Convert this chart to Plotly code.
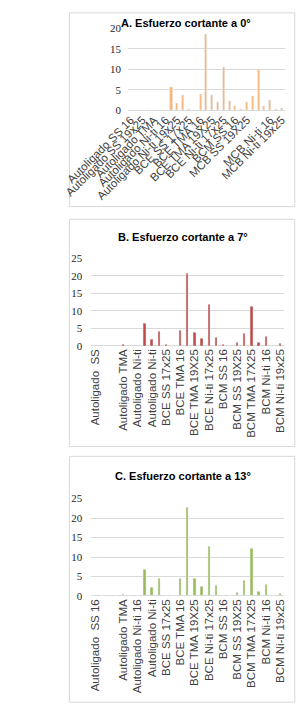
import plotly.graph_objects as go

# ---- data ----
n_cat = 27
cat_index = list(range(n_cat))

labels_A = ["Autoligado SS 16", "Autoligado SS 19x25", "Autoligado TMA", "Autoligado Ni-ti 16",
            "Autoligado Ni-ti 19x25", "BCE SS 17x25", "BCE TMA 16", "BCE TMA 19X25",
            "BCE Ni-ti 17x25", "BCM SS 16", "MCB SS 19X25", "", "MCB Ni-ti 16", "MCB Ni-ti 19x25"]
labels_B = ["Autoligado\u00a0 SS", "", "Autoligado TMA", "Autoligado Ni-ti", "Autoligado Ni-ti",
            "BCE SS 17x25", "BCE TMA 16", "BCE TMA 19X25", "BCE Ni-ti 17x25", "BCM SS 16",
            "BCM SS 19X25", "BCM TMA 17X25", "BCM Ni-ti 16", "BCM Ni-ti 19x25"]
labels_C = ["Autoligado\u00a0 SS 16", "", "Autoligado TMA", "Autoligado Ni-ti 16", "Autoligado Ni-ti",
            "BCE SS 17x25", "BCE TMA 16", "BCE TMA 19X25", "BCE Ni-ti 17x25", "BCM SS 16",
            "BCM SS 19X25", "BCM TMA 17X25", "BCM Ni-ti 16", "BCM Ni-ti 19x25"]
label_positions = list(range(0, n_cat, 2))

values_A = [0, 0, 0, 0, 0, 0, 0, 5.6, 1.8, 3.6, 0.2, 0, 3.8, 18.5, 3.6, 2.0, 10.5, 2.2,
            1.0, 0.2, 1.9, 3.4, 10.0, 1.0, 2.4, 0.2, 0.5]
values_B = [0, 0, 0, 0, 0.4, 0, 0, 6.3, 2.0, 4.2, 0.3, 0, 4.3, 20.8, 4.0, 2.2, 11.9, 2.4,
            0.3, 0, 0.9, 3.7, 11.2, 1.1, 2.8, 0, 0.6]
values_C = [0, 0, 0, 0, 0.3, 0, 0, 6.8, 2.2, 4.5, 0.2, 0, 4.5, 22.8, 4.4, 2.5, 12.7, 2.6,
            0.2, 0, 0.9, 4.0, 12.2, 1.1, 3.0, 0.2, 0.5]

titles = ["A. Esfuerzo cortante a 0°", "B. Esfuerzo cortante a 7°", "C. Esfuerzo cortante a 13°"]
colors = ["#F8B574", "#BE4B48", "#9BBB59"]

W, H = 304, 717
def px(x): return x / W
def py(y): return 1 - y / H

fig = go.Figure()
fig.add_trace(go.Bar(x=cat_index, y=values_A, marker_color=colors[0], width=0.36,
                     xaxis="x", yaxis="y", showlegend=False, hoverinfo="skip"))
fig.add_trace(go.Bar(x=cat_index, y=values_B, marker_color=colors[1], width=0.32,
                     xaxis="x2", yaxis="y2", showlegend=False, hoverinfo="skip"))
fig.add_trace(go.Bar(x=cat_index, y=values_C, marker_color=colors[2], width=0.32,
                     xaxis="x3", yaxis="y3", showlegend=False, hoverinfo="skip"))

grid = "#D9D9D9"
tick_font_y = dict(family="Liberation Serif", size=11, color="#262626")
tick_font_x = dict(family="Liberation Sans", size=11.5, color="#404040")

def xaxis(domain, anchor, labels, angle):
    return dict(domain=domain, anchor=anchor, range=[-0.5, n_cat - 0.5],
                tickmode="array", tickvals=label_positions, ticktext=labels,
                tickangle=angle, showgrid=False, zeroline=False, showline=False,
                ticks="", tickfont=tick_font_x, fixedrange=True)

def yaxis(domain, anchor, top, standoff):
    return dict(domain=domain, anchor=anchor, range=[0, top], tickmode="linear",
                tick0=0, dtick=5, showgrid=True, gridcolor=grid, gridwidth=1,
                zeroline=True, zerolinecolor=grid, zerolinewidth=1, showline=False,
                ticks="", tickfont=tick_font_y, ticklabelstandoff=standoff, fixedrange=True)

fig.update_layout(
    width=W, height=H, margin=dict(l=0, r=0, t=0, b=0),
    paper_bgcolor="white", plot_bgcolor="white", bargap=0,
    xaxis=xaxis([px(82), px(283)], "y", labels_A, -45),
    yaxis=yaxis([py(106), py(22.7)], "x", 20, 6),
    xaxis2=xaxis([px(35), px(282)], "y2", labels_B, -90),
    yaxis2=yaxis([py(345.7), py(256.7)], "x2", 25, 8),
    xaxis3=xaxis([px(35), px(282)], "y3", labels_C, -90),
    yaxis3=yaxis([py(600), py(501)], "x3", 25, 8),
)

# panel frames
frames = [(7, 7, 296, 204), (7, 217, 296, 448), (7, 458, 296, 708)]
for (x0, y0, x1, y1) in frames:
    fig.add_shape(type="rect", xref="paper", yref="paper",
                  x0=px(x0), y0=py(y0), x1=px(x1), y1=py(y1),
                  line=dict(color="#D9D9D9", width=1), fillcolor="rgba(0,0,0,0)", layer="below")

title_pos = [(156, 17), (152, 235), (152, 478)]
for t, (tx, ty) in zip(titles, title_pos):
    fig.add_annotation(text="<b>" + t + "</b>", xref="paper", yref="paper",
                       x=px(tx), y=py(ty), xanchor="center", yanchor="middle",
                       showarrow=False, font=dict(family="Liberation Sans", size=11, color="#000000"))

fig.write_html("out.html")
